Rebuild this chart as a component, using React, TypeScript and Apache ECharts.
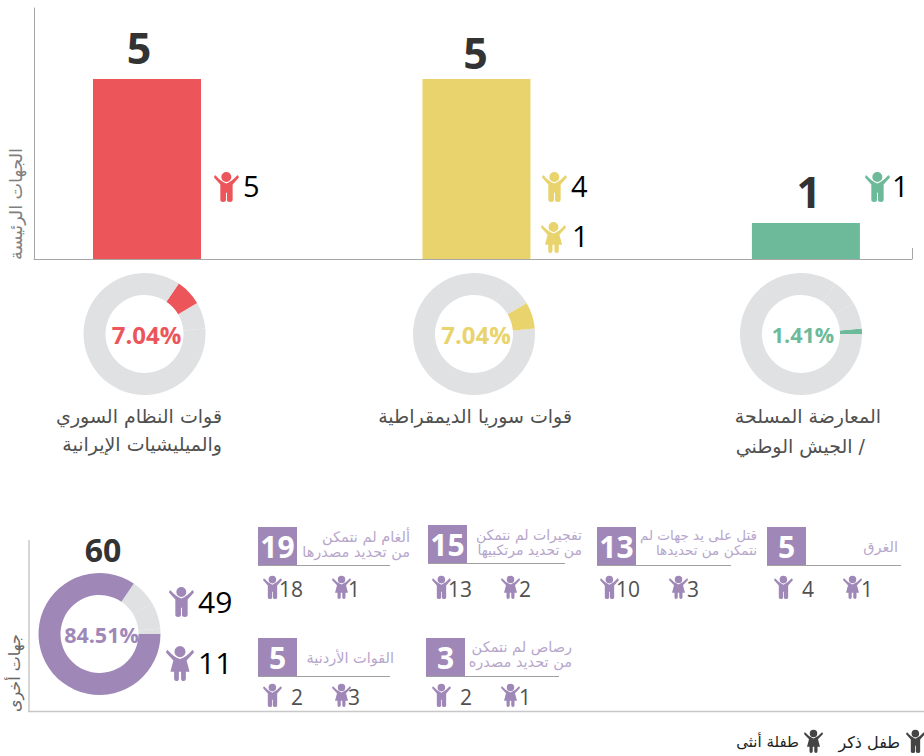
import React, { useEffect, useRef } from "react";
import * as echarts from "echarts";

// ---- data ----
const mainNames = ["قوات النظام السوري", "قوات سوريا الديمقراطية", "المعارضة المسلحة"];
const mainTotals = [5, 5, 1];
const mainBoys = [5, 4, 1];
const mainGirls = [0, 1, 0];
const mainXs = [1, 2, 3];
const mainColors = ["#EC565B", "#E9D36C", "#6CBA9A"];
const otherTotal = 60;
const otherBoys = 49;
const otherGirls = 11;
const otherColor = "#9F88B8";
const restColor = "#E0E1E3";
const shareNames = ["opposition", "sdf", "regime", "others"];
const shareValues = [1, 5, 5, 60];
const panelTotals = [19, 15, 13, 5, 5, 3];
const panelBoys = [18, 13, 10, 4, 2, 2];
const panelGirls = [1, 2, 3, 1, 3, 1];
const panelTitles = [
  ["ألغام لم نتمكن", "من تحديد مصدرها"],
  ["تفجيرات لم نتمكن", "من تحديد مرتكبيها"],
  ["قتل على يد جهات لم", "نتمكن من تحديدها"],
  ["الغرق"],
  ["القوات الأردنية"],
  ["رصاص لم نتمكن", "من تحديد مصدره"],
];

const AR = '"DejaVu Sans", sans-serif';
const NUM = '"Open Sans", sans-serif';

const BOY =
  "M52 18A15 15 0 1 1 22 18A15 15 0 1 1 52 18Z" +
  "M5 14Q20 32 37 38Q54 32 69 14Q72 11 75 20L56 41L56 88Q56 94 48 94Q39 94 39 88L39 66L36 66L36 88Q36 94 28 94Q19 94 19 88L19 41L0 20Q2 11 5 14Z";
const GIRL =
  "M53 18A15 15 0 1 1 23 18A15 15 0 1 1 53 18Z" +
  "M5 14Q20 32 38 38Q56 32 71 14Q74 11 76 20L56 42L64 72L54 72L54 90Q54 97 48 97Q41 97 41 90L41 72L35 72L35 90Q35 97 28 97Q22 97 22 90L22 72L12 72L20 42L0 20Q2 11 5 14Z";

echarts.graphic.registerShape("boyIcon", echarts.graphic.extendPath(BOY, {}) as any);
echarts.graphic.registerShape("girlIcon", echarts.graphic.extendPath(GIRL, {}) as any);

const icon = (kind: "boy" | "girl", x: number, y: number, w: number, h: number, fill: string) => ({
  type: kind === "boy" ? "boyIcon" : "girlIcon",
  x,
  y,
  scaleX: w / (kind === "boy" ? 75 : 76),
  scaleY: h / (kind === "boy" ? 94 : 97),
  style: { fill },
  silent: true,
});

const txt = (
  text: string | number,
  x: number,
  y: number,
  size: number,
  fill: string,
  align: string,
  family: string,
  weight: any = "normal",
  rotation = 0
) => ({
  type: "text",
  x,
  y,
  rotation,
  silent: true,
  style: {
    text: String(text),
    fill,
    align,
    verticalAlign: "middle",
    fontSize: size,
    fontFamily: family,
    fontWeight: weight,
  },
});

const vline = (x: number, y1: number, y2: number, stroke: string, lineWidth = 1) => ({
  type: "line",
  shape: { x1: x, y1, x2: x, y2 },
  style: { stroke, lineWidth },
  silent: true,
});
const hline = (x1: number, x2: number, y: number, stroke: string, lineWidth = 1) => ({
  type: "line",
  shape: { x1, y1: y, x2, y2: y },
  style: { stroke, lineWidth },
  silent: true,
});

const donut = (center: [number, number], highlight: number, color: string, fontSize: number) => ({
  type: "pie",
  center,
  radius: [39, 61],
  startAngle: 0,
  clockwise: false,
  silent: true,
  avoidLabelOverlap: false,
  labelLine: { show: false },
  label: { show: false },
  data: shareValues.map((value, i) => ({
    name: shareNames[i],
    value,
    itemStyle: { color: i === highlight ? color : restColor },
    label:
      i === highlight
        ? {
            show: true,
            position: "center",
            formatter: "{d}%",
            color,
            fontSize,
            fontWeight: 700,
            fontFamily: NUM,
            padding: [0, 0, 5, 4],
          }
        : { show: false },
  })),
});

// panel layout (box left, box top, rule right, title right, title size, title line centres, icon row)
const panelBoxX = [258, 428, 597, 767, 258, 426];
const panelBoxY = [527, 525, 527, 527, 638, 638];
const panelRuleX = [390, 565, 731, 901, 390, 559];
const panelTitleX = [410, 582, 757, 898, 394, 572];
const panelTitleSize = [14.5, 14, 13.5, 14.5, 14.5, 14.5];
const panelTitleY = [
  [537, 552],
  [535, 550],
  [535, 550],
  [547],
  [658],
  [647, 662],
];
const panelBoyX = [263, 432, 600, 774, 263, 432];
const panelGirlX = [332, 501, 669, 843, 332, 501];
const panelIconY = [575, 575, 575, 575, 683, 683];
const panelBoyNumX = [303, 472, 640, 814, 303, 472];
const panelGirlNumX = [360, 531, 699, 873, 360, 531];

function buildGraphics() {
  const g: any[] = [];
  const ink = "#505050";
  // main frame end tick
  g.push(vline(912.5, 248, 259, "#A6A6A6"));
  // main side icons
  g.push(icon("boy", 214, 171, 25, 31, mainColors[0]));
  g.push(txt(mainBoys[0], 243, 185.5, 29, "#000", "left", NUM));
  g.push(icon("boy", 542, 171, 25, 31, mainColors[1]));
  g.push(txt(mainBoys[1], 571, 185.5, 29, "#000", "left", NUM));
  g.push(icon("girl", 541, 221, 25, 32, mainColors[1]));
  g.push(txt(mainGirls[1], 572, 235.5, 29, "#000", "left", NUM));
  g.push(icon("boy", 865, 171, 25, 31, mainColors[2]));
  g.push(txt(mainBoys[2], 892, 185.5, 29, "#000", "left", NUM));
  // axis titles
  g.push(txt("الجهات الرئيسة", 16, 204, 17.5, "#808080", "center", AR, "normal", Math.PI / 2));
  g.push(txt("جهات أخرى", 14, 673, 16, "#666", "center", AR, "normal", Math.PI / 2));
  // names below donuts
  g.push(txt(mainNames[0], 222, 416, 19, ink, "right", AR));
  g.push(txt("والميليشيات الإيرانية", 222, 444, 19, ink, "right", AR));
  g.push(txt(mainNames[1], 572, 416, 19, ink, "right", AR));
  g.push(txt(mainNames[2], 881, 416, 19, ink, "right", AR));
  g.push(txt("الجيش الوطني /", 865, 446, 19, ink, "right", AR));
  // lower frame
  g.push(vline(29, 540, 712, "#C8C8C8", 1.5));
  g.push(hline(28, 924, 711.5, "#C8C8C8", 1.5));
  // lower summary
  g.push(txt(otherTotal, 103, 549.5, 32, "#333", "center", NUM, 700));
  g.push(icon("boy", 169, 586, 25, 31, otherColor));
  g.push(txt(otherBoys, 198, 601, 30, "#000", "left", NUM));
  g.push(icon("girl", 166, 645, 28, 36, otherColor));
  g.push(txt(otherGirls, 198, 662, 30, "#000", "left", NUM));
  // panels
  panelTotals.forEach((total, i) => {
    const bx = panelBoxX[i];
    const by = panelBoxY[i];
    g.push({
      type: "rect",
      shape: { x: bx, y: by, width: 39, height: 39 },
      style: { fill: otherColor },
      silent: true,
    });
    g.push(hline(bx, panelRuleX[i], by + 38.5, "#A0A0A0", 1));
    g.push(txt(total, bx + 19.5, by + 19, 30, "#fff", "center", NUM, 700));
    panelTitles[i].forEach((line, k) => {
      g.push(txt(line, panelTitleX[i], panelTitleY[i][k], panelTitleSize[i], "#B7A6CB", "right", AR));
    });
    const iy = panelIconY[i];
    g.push(icon("boy", panelBoyX[i], iy, 19, 24, otherColor));
    g.push(txt(panelBoys[i], panelBoyNumX[i], iy + 14, 21, ink, "right", NUM));
    g.push(icon("girl", panelGirlX[i], iy, 19, 24, otherColor));
    g.push(txt(panelGirls[i], panelGirlNumX[i], iy + 14, 21, ink, "right", NUM));
  });
  // legend
  g.push(icon("boy", 906, 729, 19, 24, "#444"));
  g.push(txt("طفل ذكر", 900, 742, 16, "#222", "right", AR));
  g.push(icon("girl", 804, 729, 19, 24, "#444"));
  g.push(txt("طفلة أنثى", 799, 742, 15, "#222", "right", AR));
  return g;
}

export default function App() {
  const ref = useRef<HTMLDivElement>(null);
  useEffect(() => {
    document.body.style.margin = "0";
    const chart = echarts.init(ref.current!, undefined, { renderer: "svg" });
    const labelOffsets = [
      [-8, -10],
      [-1, -5],
      [3, -10],
    ];
    chart.setOption({
      animation: false,
      backgroundColor: "#fff",
      grid: { left: 34, right: 12, top: 8, bottom: 497, containLabel: false },
      xAxis: {
        type: "value",
        min: 0.657,
        max: 3.322,
        splitLine: { show: false },
        axisLabel: { show: false },
        axisTick: { show: false },
        axisLine: { show: true, onZero: false, lineStyle: { color: "#A6A6A6", width: 1 } },
      },
      yAxis: {
        type: "value",
        min: 0,
        max: 6.972,
        splitLine: { show: false },
        axisLabel: { show: false },
        axisTick: { show: false },
        axisLine: { show: true, lineStyle: { color: "#A6A6A6", width: 1 } },
      },
      series: [
        {
          type: "bar",
          barWidth: 108,
          silent: true,
          data: mainTotals.map((v, i) => ({
            value: [mainXs[i], v],
            itemStyle: { color: mainColors[i] },
            label: {
              show: true,
              position: "top",
              distance: 0,
              offset: labelOffsets[i],
              formatter: String(v),
              color: "#333",
              fontSize: 43,
              fontWeight: 700,
              fontFamily: NUM,
            },
          })),
        },
        donut([144.5, 334], 2, mainColors[0], 24),
        donut([474, 334], 1, mainColors[1], 24),
        donut([801, 334], 0, mainColors[2], 21.5),
        donut([99.5, 634], 3, otherColor, 21.5),
      ],
      graphic: { elements: buildGraphics() },
    });
    return () => chart.dispose();
  }, []);
  return <div ref={ref} style={{ width: 924, height: 756 }} />;
}
